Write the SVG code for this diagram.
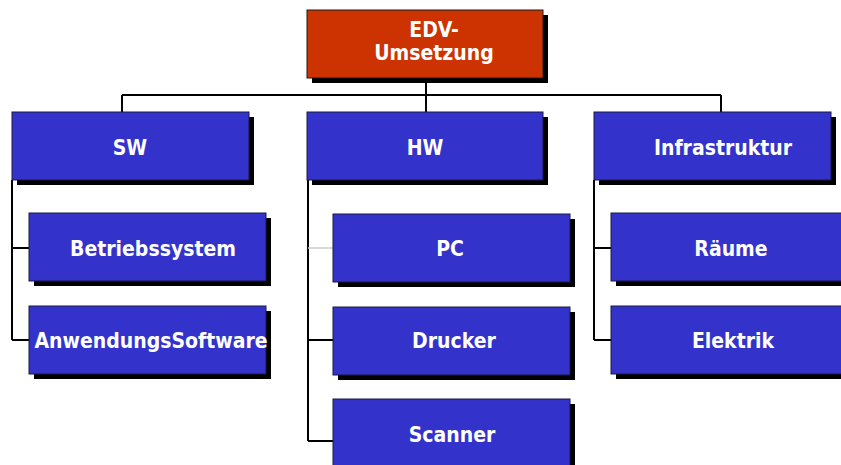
<svg xmlns="http://www.w3.org/2000/svg" width="841" height="465" viewBox="0 0 841 465">
<style>
.sh{fill:#000}
.b{fill:#3333CC;stroke:#1a1a40;stroke-width:1}
.r{fill:#CC3300;stroke:#1a1a1a;stroke-width:1}
.t{font-family:"DejaVu Sans Condensed","DejaVu Sans",sans-serif;font-stretch:condensed;font-weight:bold;font-size:21px;fill:#fff;text-anchor:middle}
.c{fill:none;stroke:#000;stroke-width:2}
</style>
<rect width="841" height="465" fill="#fff"/>
<g id="connectors">
<path class="c" d="M426,78V95M122,95H721M122,95V112M426,95V112M721,95V112" stroke-width="1.6"/>
<path class="c" d="M12,180V340M12,248H29M12,340H29"/>
<path class="c" d="M308,180V441M308,340H333M308,441H333"/>
<path d="M308,248H333" stroke="#cccccc" stroke-width="1.5"/>
<path class="c" d="M594,180V340M594,248H611M594,340H611"/>
</g>
<g id="edv">
<rect class="sh" x="312" y="15" width="236" height="68"/>
<rect class="r" x="307" y="10" width="236" height="68"/>
<text class="t" x="434" y="37">EDV-</text>
<text class="t" x="434" y="60">Umsetzung</text>
</g>
<g id="sw">
<rect class="sh" x="17" y="117" width="237" height="68"/>
<rect class="b" x="12" y="112" width="237" height="68"/>
<text class="t" x="130" y="155">SW</text>
</g>
<g id="hw">
<rect class="sh" x="312" y="117" width="236" height="68"/>
<rect class="b" x="307" y="112" width="236" height="68"/>
<text class="t" x="425" y="155">HW</text>
</g>
<g id="infra">
<rect class="sh" x="599" y="117" width="237" height="68"/>
<rect class="b" x="594" y="112" width="237" height="68"/>
<text class="t" x="723" y="155">Infrastruktur</text>
</g>
<g id="betriebssystem">
<rect class="sh" x="34" y="218" width="237" height="68"/>
<rect class="b" x="29" y="213" width="237" height="68"/>
<text class="t" x="153" y="256">Betriebssystem</text>
</g>
<g id="anwendungssoftware">
<rect class="sh" x="34" y="311" width="237" height="68"/>
<rect class="b" x="29" y="306" width="237" height="68"/>
<text class="t" x="151" y="348">AnwendungsSoftware</text>
</g>
<g id="pc">
<rect class="sh" x="338" y="219" width="237" height="68"/>
<rect class="b" x="333" y="214" width="237" height="68"/>
<text class="t" x="450" y="256">PC</text>
</g>
<g id="drucker">
<rect class="sh" x="338" y="312" width="237" height="68"/>
<rect class="b" x="333" y="307" width="237" height="68"/>
<text class="t" x="454" y="348">Drucker</text>
</g>
<g id="scanner">
<rect class="sh" x="338" y="404" width="237" height="68"/>
<rect class="b" x="333" y="399" width="237" height="68"/>
<text class="t" x="452" y="442">Scanner</text>
</g>
<g id="raeume">
<rect class="sh" x="616" y="218" width="237" height="68"/>
<rect class="b" x="611" y="213" width="237" height="68"/>
<text class="t" x="731" y="256">Räume</text>
</g>
<g id="elektrik">
<rect class="sh" x="616" y="311" width="237" height="68"/>
<rect class="b" x="611" y="306" width="237" height="68"/>
<text class="t" x="733" y="348">Elektrik</text>
</g>
</svg>
